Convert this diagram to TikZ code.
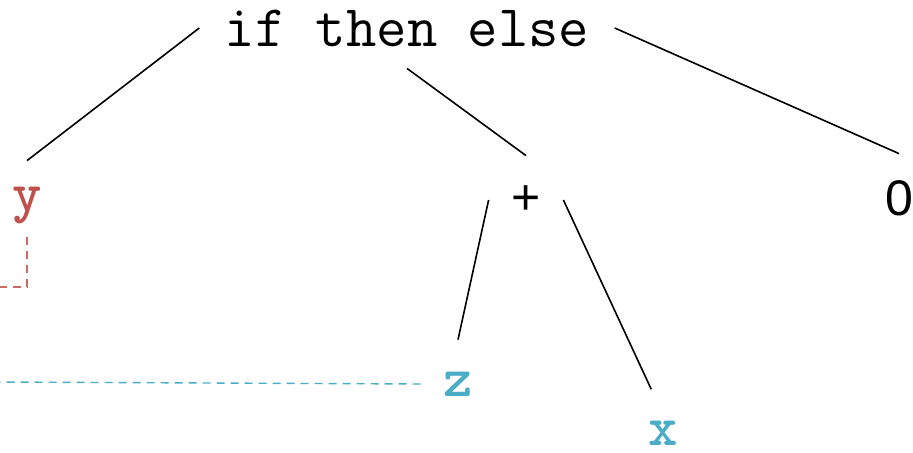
\documentclass[tikz,border=0pt]{standalone}
\usepackage{fontspec}
\setmainfont{Liberation Sans}
\usetikzlibrary{positioning}
\definecolor{varred}{RGB}{192,80,77}
\definecolor{varblue}{RGB}{75,172,198}

\begin{document}
\begin{tikzpicture}[
    x=0.5pt, y=-0.5pt,
    every node/.style={font=\fontsize{25}{30}\selectfont},
    head/.style={font=\fontsize{29.5}{34}\selectfont\ttfamily, inner xsep=12.5pt, minimum height=40pt},
    leaf/.style={minimum width=37pt, minimum height=44pt, inner sep=0pt},
    var/.style={leaf, font=\fontsize{28}{32}\selectfont\ttfamily\bfseries},
    edge/.style={line width=0.8pt},
    link/.style={line width=0.7pt, dash pattern=on 4pt off 3pt}
  ]
    \useasboundingbox (0,0) rectangle (913,452);

    \node[head] (ite) at (407,28) {if then else};
    \node[var, text=varred] (y) at (27,205) {y};
    \node[leaf] (plus) at (526,200) {+};
    \node[leaf] (zero) at (899,198) {0};
    \node[var, text=varblue] (z) at (458,384) {z};
    \node[var, text=varblue, minimum height=18pt] (x) at (663,433) {x};

    \coordinate (ycorner) at (27,287);
    \coordinate (yend) at (0,287);
    \coordinate (zend) at (0,382);

    \draw[edge] (ite.west) -- (y.north);
    \draw[edge] (ite.south) -- (plus.north);
    \draw[edge] (ite.east) -- (zero.north);
    \draw[edge] (plus.west) -- (z.north);
    \draw[edge, shorten >=14pt] (plus.east) -- (x.north);

    \draw[link, varred!85, shorten <=-6pt] (y.south) -- (ycorner) -- (yend);
    \draw[link, varblue] (z.west) -- (zend);
  \end{tikzpicture}
\end{document}
